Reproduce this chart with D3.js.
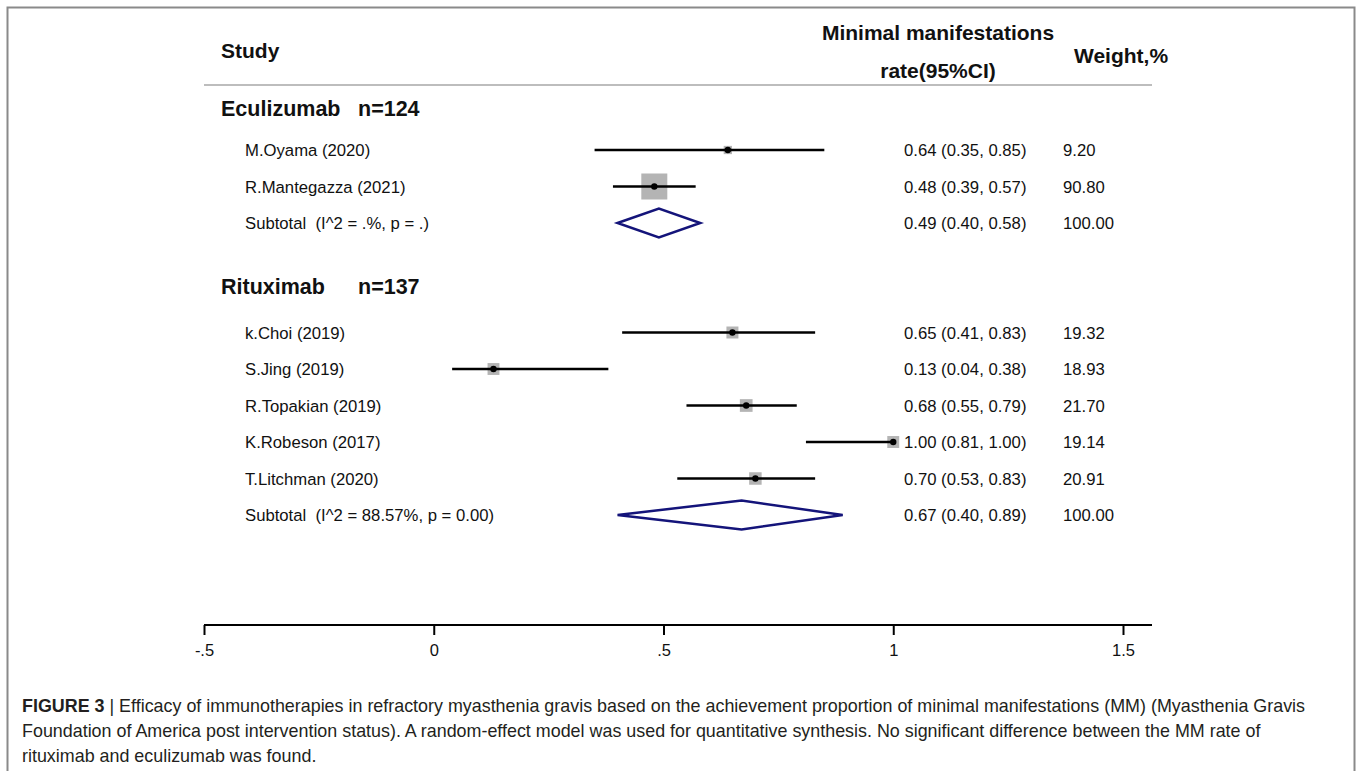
<!DOCTYPE html>
<html>
<head>
<meta charset="utf-8">
<script src="https://cdn.jsdelivr.net/npm/d3@7"></script>
<style>
  html, body { margin: 0; padding: 0; background: #fff; }
  svg { display: block; font-family: "Liberation Sans", Arial, sans-serif; }
</style>
</head>
<body>
<svg id="chart" width="1357" height="771"></svg>
<script>
// ---------- data ----------
const groupNames = ["Eculizumab", "Rituximab"];
const groupN = ["n=124", "n=137"];
const studies = ["M.Oyama (2020)", "R.Mantegazza (2021)", "k.Choi (2019)", "S.Jing (2019)", "R.Topakian (2019)", "K.Robeson (2017)", "T.Litchman (2020)"];
const studyGroup = [0, 0, 1, 1, 1, 1, 1];
const estimates = [0.64, 0.48, 0.65, 0.13, 0.68, 1.00, 0.70];
const lower = [0.35, 0.39, 0.41, 0.04, 0.55, 0.81, 0.53];
const upper = [0.85, 0.57, 0.83, 0.38, 0.79, 1.00, 0.83];
const weights = ["9.20", "90.80", "19.32", "18.93", "21.70", "19.14", "20.91"];
const subtotalLabels = ["Subtotal\u00a0\u00a0(I^2 = .%, p = .)", "Subtotal\u00a0\u00a0(I^2 = 88.57%, p = 0.00)"];
const subEst = [0.49, 0.67];
const subLow = [0.40, 0.40];
const subHigh = [0.58, 0.89];
const subWeight = ["100.00", "100.00"];
const tickValues = [-0.5, 0, 0.5, 1, 1.5];
const tickLabels = ["-.5", "0", ".5", "1", "1.5"];
const captionLines = [
  "Efficacy of immunotherapies in refractory myasthenia gravis based on the achievement proportion of minimal manifestations (MM) (Myasthenia Gravis",
  "Foundation of America post intervention status). A random-effect model was used for quantitative synthesis. No significant difference between the MM rate of",
  "rituximab and eculizumab was found."
];

// ---------- layout ----------
const svg = d3.select("#chart");
const x = d3.scaleLinear().domain([-0.5, 1.5]).range([204, 1123]);
const axisEnd = 1152;
const rowY = d3.scaleLinear().domain([0, 10]).range([150, 515]);
const headerGap = [42, 46];
const fmt = d3.format(".2f");
const textColor = "#111";
const bodySize = 16.7;
const boxScale = d3.scaleSqrt().domain([0, 90.8]).range([0, 26]);

// frame
svg.append("rect").attr("x", 7.5).attr("y", 7.5).attr("width", 1347).attr("height", 800)
  .attr("fill", "none").attr("stroke", "#8a8a8a").attr("stroke-width", 2);

// header
const hdr = svg.append("g").attr("font-weight", "bold").attr("font-size", 21).attr("fill", textColor);
hdr.append("text").attr("x", 221).attr("y", 58).text("Study");
hdr.append("text").attr("x", 938).attr("y", 40).attr("text-anchor", "middle").text("Minimal manifestations");
hdr.append("text").attr("x", 938).attr("y", 78).attr("text-anchor", "middle").text("rate(95%CI)");
hdr.append("text").attr("x", 1074).attr("y", 63).text("Weight,%");
svg.append("line").attr("x1", x(-0.5)).attr("x2", axisEnd).attr("y1", 85).attr("y2", 85)
  .attr("stroke", "#bdbdbd").attr("stroke-width", 2);

// build row list
const rows = [];
let idx = 0;
groupNames.forEach((g, gi) => {
  rows.push({ type: "group", gi, idx });
  studies.forEach((s, si) => {
    if (studyGroup[si] === gi) { rows.push({ type: "study", si, idx }); idx++; }
  });
  rows.push({ type: "sub", gi, idx });
  idx += 3;
});

const gRows = svg.append("g");
rows.forEach(r => {
  if (r.type === "group") {
    const yy = rowY(r.idx) - headerGap[r.gi] + 7.5;
    const t = gRows.append("text").attr("x", 221).attr("y", yy).attr("font-size", 21.5)
      .attr("font-weight", "bold").attr("fill", textColor);
    t.append("tspan").text(groupNames[r.gi]);
    t.append("tspan").attr("x", 358).text(groupN[r.gi]);
    return;
  }
  const yc = rowY(r.idx);
  if (r.type === "study") {
    const i = r.si;
    gRows.append("text").attr("x", 245).attr("y", yc + 6).attr("font-size", bodySize).attr("fill", textColor).text(studies[i]);
    const s = boxScale(+weights[i]);
    gRows.append("rect").attr("x", x(estimates[i]) - s / 2).attr("y", yc - s / 2)
      .attr("width", s).attr("height", s).attr("fill", "#b4b4b4");
    gRows.append("line").attr("x1", x(lower[i])).attr("x2", x(upper[i])).attr("y1", yc).attr("y2", yc)
      .attr("stroke", "#000").attr("stroke-width", 2.5);
    gRows.append("circle").attr("cx", x(estimates[i])).attr("cy", yc).attr("r", 3.2).attr("fill", "#000");
    gRows.append("text").attr("x", 904).attr("y", yc + 6).attr("font-size", bodySize).attr("fill", textColor)
      .text(`${fmt(estimates[i])} (${fmt(lower[i])}, ${fmt(upper[i])})`);
    gRows.append("text").attr("x", 1063).attr("y", yc + 6).attr("font-size", bodySize).attr("fill", textColor).text(weights[i]);
  } else {
    const gi = r.gi;
    gRows.append("text").attr("x", 245).attr("y", yc + 6).attr("font-size", bodySize).attr("fill", textColor).text(subtotalLabels[gi]);
    const h = 14.5;
    const pts = [[x(subLow[gi]), yc], [x(subEst[gi]), yc - h], [x(subHigh[gi]), yc], [x(subEst[gi]), yc + h]];
    gRows.append("path").attr("d", d3.line()(pts) + "Z").attr("fill", "none")
      .attr("stroke", "#14147a").attr("stroke-width", 2.5).attr("stroke-linejoin", "miter");
    gRows.append("text").attr("x", 904).attr("y", yc + 6).attr("font-size", bodySize).attr("fill", textColor)
      .text(`${fmt(subEst[gi])} (${fmt(subLow[gi])}, ${fmt(subHigh[gi])})`);
    gRows.append("text").attr("x", 1063).attr("y", yc + 6).attr("font-size", bodySize).attr("fill", textColor).text(subWeight[gi]);
  }
});

// axis
const axisY = 625;
const axis = d3.axisBottom(x).tickValues(tickValues).tickFormat((d, i) => tickLabels[i]).tickSize(10).tickPadding(9).tickSizeOuter(0);
const ga = svg.append("g").attr("transform", `translate(0,${axisY})`).call(axis);
ga.select(".domain").remove();
ga.append("line").attr("x1", x(-0.5)).attr("x2", axisEnd).attr("y1", 0).attr("y2", 0).attr("stroke", "#000").attr("stroke-width", 2);
ga.selectAll(".tick line").attr("stroke", "#000").attr("stroke-width", 2);
ga.selectAll(".tick text").attr("font-size", 16.5).attr("fill", textColor).attr("font-family", "Liberation Sans, Arial, sans-serif");

// caption
const cap = svg.append("g").attr("font-size", 17.9).attr("fill", "#231f20");
captionLines.forEach((line, i) => {
  const t = cap.append("text").attr("x", 22).attr("y", 712 + i * 25);
  if (i === 0) {
    t.append("tspan").attr("font-weight", "bold").text("FIGURE 3 ");
    t.append("tspan").text("| ");
  }
  t.append("tspan").text(line);
});
</script>
</body>
</html>
